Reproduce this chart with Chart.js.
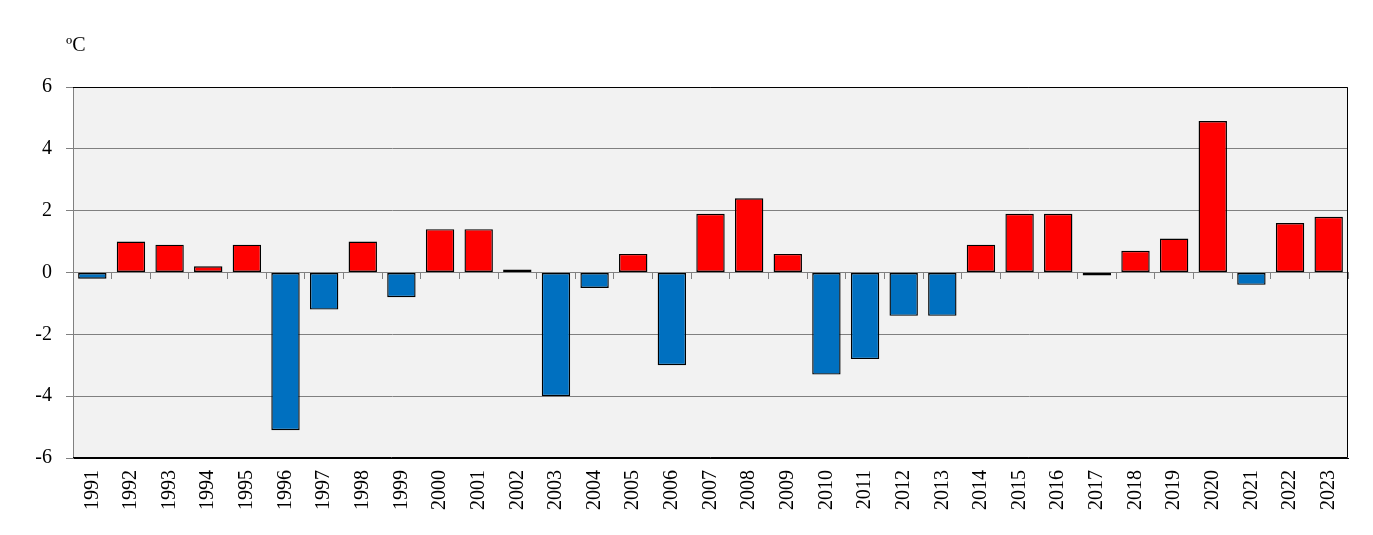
<!DOCTYPE html>
<html>
<head>
<meta charset="utf-8">
<script src="https://cdn.jsdelivr.net/npm/chart.js@4"></script>
<style>
  html, body { margin: 0; padding: 0; background: #fff; }
</style>
</head>
<body>
<canvas id="chart" width="1373" height="535"></canvas>
<script>
const years = ['1991','1992','1993','1994','1995','1996','1997','1998','1999','2000','2001',
  '2002','2003','2004','2005','2006','2007','2008','2009','2010','2011','2012',
  '2013','2014','2015','2016','2017','2018','2019','2020','2021','2022','2023'];
const anomalies = [-0.2, 1.0, 0.9, 0.2, 0.9, -5.1, -1.2, 1.0, -0.8, 1.4, 1.4,
  0.1, -4.0, -0.5, 0.6, -3.0, 1.9, 2.4, 0.6, -3.3, -2.8, -1.4,
  -1.4, 0.9, 1.9, 1.9, -0.1, 0.7, 1.1, 4.9, -0.4, 1.6, 1.8];
const unitLabel = 'ºC';

const serif = 'Liberation Serif';

// fond gris + cadre noir (haut, droite, bas) + unité
const frame = {
  id: 'frame',
  beforeDraw(chart) {
    const {ctx, chartArea: a} = chart;
    ctx.save();
    ctx.fillStyle = '#f2f2f2';
    ctx.fillRect(a.left, a.top, a.right - a.left, a.bottom - a.top);
    ctx.restore();
  },
  afterDraw(chart) {
    const {ctx, chartArea: a} = chart;
    ctx.save();
    ctx.strokeStyle = '#000';
    ctx.lineWidth = 1;
    ctx.beginPath();
    ctx.moveTo(a.left, a.top + 0.5);
    ctx.lineTo(a.right - 0.5, a.top + 0.5);
    ctx.lineTo(a.right - 0.5, a.bottom - 0.5);
    ctx.lineTo(a.left, a.bottom - 0.5);
    ctx.stroke();
    ctx.fillStyle = '#000';
    ctx.font = '20px "' + serif + '"';
    ctx.textAlign = 'left';
    ctx.textBaseline = 'alphabetic';
    ctx.fillText(unitLabel, a.left - 7, a.top - 36);
    ctx.restore();
  }
};

new Chart(document.getElementById('chart'), {
  type: 'bar',
  data: {
    labels: years,
    datasets: [{
      data: anomalies,
      backgroundColor: anomalies.map(v => v >= 0 ? '#ff0000' : '#0070c0'),
      borderColor: '#000',
      borderWidth: 1.4,
      borderSkipped: false,
      categoryPercentage: 1,
      barPercentage: 0.735
    }]
  },
  options: {
    responsive: false,
    maintainAspectRatio: false,
    animation: false,
    devicePixelRatio: 1,
    layout: { padding: { top: 87, right: 25, left: 0, bottom: 0 } },
    plugins: { legend: { display: false }, tooltip: { enabled: false } },
    scales: {
      x: {
        position: 'bottom',
        offset: true,
        grid: { display: false, drawTicks: false },
        border: { display: true, color: '#000', width: 1 },
        ticks: {
          autoSkip: false,
          minRotation: 90,
          maxRotation: 90,
          padding: 12,
          color: '#000',
          font: { family: serif, size: 20 }
        },
        afterFit: s => { s.height = 77; }
      },
      x2: {
        type: 'category',
        labels: years,
        position: { y: 0 },
        offset: true,
        grid: { offset: true, drawOnChartArea: false, tickLength: 6, color: '#808080' },
        border: { display: true, color: '#808080', width: 1 },
        ticks: { display: false }
      },
      y: {
        min: -6,
        max: 6,
        ticks: {
          stepSize: 2,
          padding: 14,
          color: '#000',
          font: { family: serif, size: 20 }
        },
        grid: { color: '#808080', lineWidth: 1, tickLength: 7 },
        border: { display: true, color: '#808080', width: 1 },
        afterFit: s => { s.width = 73; }
      }
    }
  },
  plugins: [frame]
});
</script>
</body>
</html>
